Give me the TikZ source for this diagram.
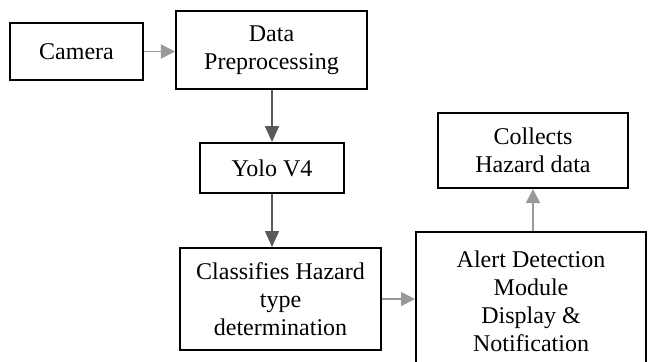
\documentclass[tikz,border=0pt]{standalone}
\usepackage{fontspec}
\setmainfont{Liberation Serif}
\usetikzlibrary{arrows.meta}
\begin{document}
\begin{tikzpicture}[x=0.5bp,y=-0.5bp,
  blk/.style={draw=black,line width=1bp,fill=white,rectangle,inner sep=0pt,
    align=center,font=\fontsize{12bp}{14bp}\selectfont},
  darkarr/.style={draw=black!65,line width=0.8bp,-{Triangle[length=8bp,width=7bp]}},
  lightarr/.style={draw=black!40,line width=0.8bp,-{Triangle[length=7bp,width=7bp]}}]
\useasboundingbox (0,0) rectangle (648,361);
\clip (0,0) rectangle (648,361);
\node[blk,minimum width=66.5bp,minimum height=28.5bp] (cam) at (76.5,51.5) {Camera};
\node[blk,minimum width=95.5bp,minimum height=39bp] (pre) at (271.5,50) {Data\\Preprocessing};
\node[blk,minimum width=72bp,minimum height=25bp] (yolo) at (272,168) {Yolo V4};
\node[blk,minimum width=100.5bp,minimum height=51bp] (cls) at (280.5,299) {Classifies Hazard\\type\\determination};
\node[blk,minimum width=115bp,minimum height=69bp] (alert) at (531,301) {Alert Detection\\Module\\Display \&\\Notification};
\node[blk,minimum width=95bp,minimum height=37.5bp] (col) at (533,150.5) {Collects\\Hazard data};
\draw[lightarr] (cam.east) -- (cam.east -| pre.west);
\draw[darkarr] (pre.south -| yolo.north) -- (yolo.north);
\draw[darkarr] (yolo.south) -- (yolo.south |- cls.north);
\draw[lightarr] (cls.east) -- (cls.east -| alert.west);
\draw[lightarr] (col.south |- alert.north) -- (col.south);
\end{tikzpicture}
\end{document}
